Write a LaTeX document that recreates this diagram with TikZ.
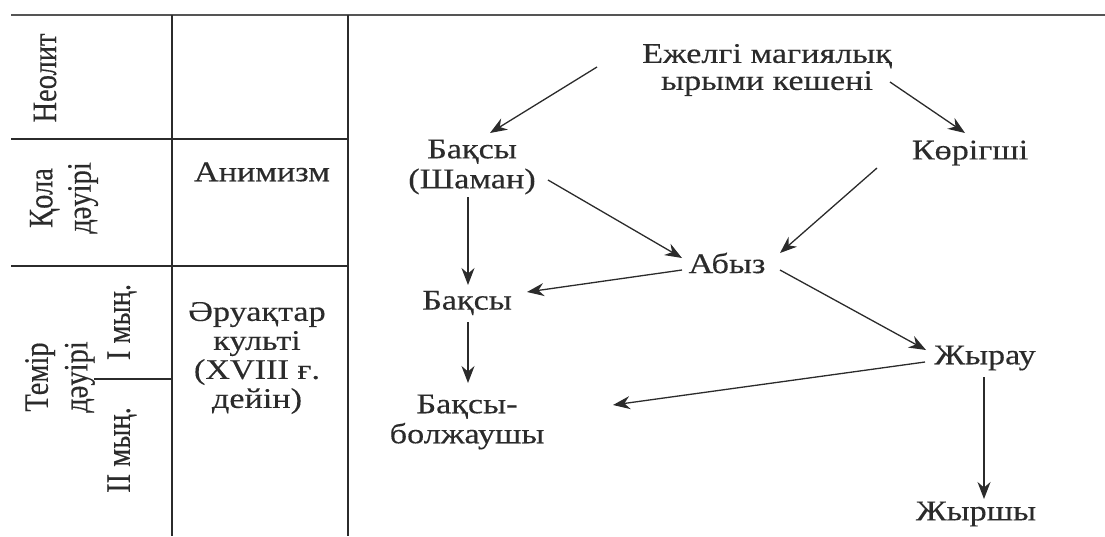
\documentclass[tikz,border=0pt]{standalone}
\usepackage{fontspec}
\setmainfont{Liberation Serif}[FakeBold=0.3]
\newfontfamily\widefont{Liberation Serif}[FakeStretch=1.2,FakeBold=0.3]
\usetikzlibrary{arrows.meta}
\definecolor{ink}{HTML}{2B2B2B}
\begin{document}
\begin{tikzpicture}[x=1pt,y=-1pt,
  lbl/.style={inner sep=0pt,align=center,text=ink,font=\widefont\fontsize{28.5}{29}\selectfont},
  rlbl/.style={inner sep=0pt,align=center,text=ink,transform shape,rotate=90},
  rule/.style={draw=ink,line width=1.3pt},
  arr/.style={draw=ink,line width=1.3pt,-{Stealth[length=17pt,width=13pt]}}]
\useasboundingbox (0,0) rectangle (1105,536);
% table
\draw[draw=ink!80,line width=2pt] (11,15) -- (1105,15);
\draw[rule] (172,15) -- (172,536);
\draw[rule] (348,15) -- (348,536);
\draw[rule] (11,139) -- (348,139);
\draw[rule] (11,266) -- (348,266);
\draw[rule] (94,379) -- (172,379);
% left column (rotated labels, stretched horizontally)
\begin{scope}[shift={(45,78)},xscale=1.2]
  \node[rlbl,font=\fontsize{28.5}{32}\selectfont] (neo) at (0,0) {Неолит};
\end{scope}
\begin{scope}[shift={(64,198)},xscale=1.2]
  \node[rlbl,font=\fontsize{28.5}{32}\selectfont] (kola) at (0,0) {Қола\\дәуірі};
\end{scope}
\begin{scope}[shift={(60,377)},xscale=1.2]
  \node[rlbl,font=\fontsize{28.5}{33}\selectfont] (temir) at (0,0) {Темір\\дәуірі};
\end{scope}
\begin{scope}[shift={(122,322)},xscale=1.2]
  \node[rlbl,font=\fontsize{28.5}{32}\selectfont] (myn1) at (0,0) {I мың.};
\end{scope}
\begin{scope}[shift={(122,450)},xscale=1.2]
  \node[rlbl,font=\fontsize{28.5}{32}\selectfont] (myn2) at (0,0) {II мың.};
\end{scope}
\node[lbl] (anim) at (262,172) {Анимизм};
\node[lbl] (aruak) at (257,358) {Әруақтар\\культі\\(XVIII ғ.\\дейін)};
% diagram
\node[lbl,font=\widefont\fontsize{28.5}{27}\selectfont] (top) at (767,70) {Ежелгі магиялық\\ырыми кешені};
\node[lbl,font=\widefont\fontsize{28.5}{30}\selectfont] (shaman) at (472,167) {Бақсы\\(Шаман)};
\node[lbl] (kor) at (970,153) {Көрігші};
\node[lbl] (abyz) at (727,263) {Абыз};
\node[lbl] (baksy) at (467,303) {Бақсы};
\node[lbl] (zhyrau) at (985,358) {Жырау};
\node[lbl,font=\widefont\fontsize{28.5}{30}\selectfont] (bolzh) at (467,422) {Бақсы-\\болжаушы};
\node[lbl] (zhyrshy) at (976,514) {Жыршы};
% arrows
\draw[arr] ([shift={(-170,-3)}]top.center) -- ([shift={(18,-34)}]shaman.center);
\draw[arr] ([shift={(123,12)}]top.center) -- ([shift={(-5,-20)}]kor.center);
\draw[arr] ([shift={(76,13)}]shaman.center) -- ([shift={(-45,-5)}]abyz.center);
\draw[arr] ([shift={(-93,15)}]kor.center) -- ([shift={(53,-10)}]abyz.center);
\draw[arr] ([shift={(-4,30)}]shaman.center) -- ([shift={(1,-18)}]baksy.center);
\draw[arr] ([shift={(-45,7)}]abyz.center) -- ([shift={(60,-11)}]baksy.center);
\draw[arr] ([shift={(53,7)}]abyz.center) -- ([shift={(-59,-8)}]zhyrau.center);
\draw[arr] ([shift={(1,19)}]baksy.center) -- ([shift={(1,-39)}]bolzh.center);
\draw[arr] ([shift={(-60,4)}]zhyrau.center) -- ([shift={(146,-17)}]bolzh.center);
\draw[arr] ([shift={(-1,19)}]zhyrau.center) -- ([shift={(8,-15)}]zhyrshy.center);
\end{tikzpicture}
\end{document}
